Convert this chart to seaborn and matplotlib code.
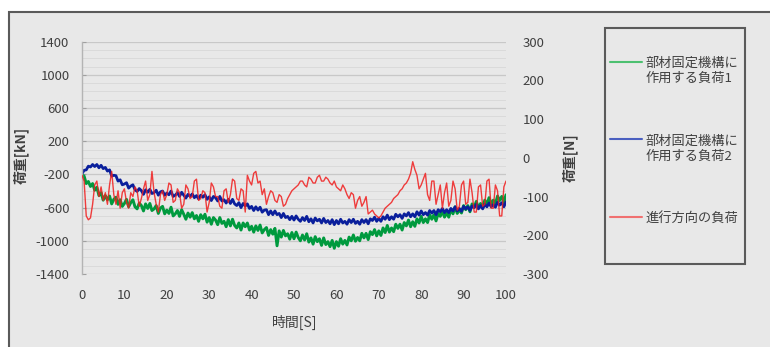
import numpy as np
import pandas as pd
import matplotlib
matplotlib.use("Agg")
import matplotlib.pyplot as plt
from matplotlib.patches import Rectangle
from matplotlib.lines import Line2D
from matplotlib.legend_handler import HandlerLine2D
import seaborn as sns

# ---------------- data (0.5 s sampling) ----------------
time_s = np.arange(0, 100.5, 0.5)

load1_kN = [
    -200, -220, -310, -285, -345, -310, -390, -355, -455, -420,
    -510, -455, -505, -460, -555, -500, -475, -560, -505, -585,
    -550, -500, -590, -540, -505, -590, -615, -545, -575, -640,
    -555, -610, -550, -635, -615, -575, -670, -605, -585, -675,
    -630, -670, -595, -700, -675, -635, -705, -625, -680, -740,
    -665, -715, -660, -735, -695, -765, -685, -735, -680, -775,
    -720, -800, -720, -750, -805, -720, -790, -765, -830, -745,
    -820, -740, -815, -845, -785, -870, -785, -830, -785, -870,
    -825, -895, -820, -875, -810, -905, -865, -840, -935, -865,
    -920, -850, -1060, -880, -955, -875, -940, -915, -980, -900,
    -975, -895, -960, -1000, -930, -990, -915, -1015, -965, -1040,
    -950, -1010, -975, -1055, -965, -1045, -1010, -1070, -995, -1090,
    -1010, -1065, -975, -1040, -995, -1050, -955, -1000, -930, -1005,
    -960, -1000, -910, -965, -910, -985, -890, -925, -865, -940,
    -880, -935, -845, -900, -815, -895, -845, -890, -800, -850,
    -800, -870, -780, -820, -750, -830, -770, -825, -735, -785,
    -705, -780, -735, -780, -685, -740, -685, -760, -670, -705,
    -640, -715, -660, -715, -620, -675, -590, -670, -625, -665,
    -575, -625, -575, -650, -555, -595, -525, -605, -550, -600,
    -510, -560, -480, -560, -510, -555, -460, -515, -465, -535,
    -445]

load2_kN = [
    -190, -150, -145, -100, -110, -80, -105, -80, -120, -90,
    -130, -115, -160, -145, -220, -210, -215, -280, -265, -325,
    -315, -300, -365, -340, -325, -385, -405, -370, -395, -440,
    -385, -415, -380, -430, -420, -390, -450, -410, -400, -450,
    -425, -445, -400, -465, -450, -420, -465, -415, -450, -485,
    -440, -465, -435, -480, -455, -495, -450, -475, -445, -500,
    -470, -515, -465, -480, -520, -465, -520, -505, -545, -500,
    -550, -500, -555, -575, -540, -600, -550, -580, -555, -610,
    -585, -635, -590, -630, -595, -655, -630, -625, -685, -640,
    -685, -640, -685, -670, -720, -670, -720, -705, -745, -705,
    -750, -700, -740, -765, -720, -755, -705, -770, -735, -785,
    -725, -760, -740, -785, -730, -780, -755, -795, -745, -805,
    -755, -795, -740, -785, -765, -800, -745, -780, -740, -790,
    -765, -800, -745, -780, -745, -795, -735, -755, -715, -765,
    -730, -765, -710, -740, -690, -745, -710, -740, -680, -710,
    -685, -730, -675, -700, -660, -710, -675, -710, -650, -690,
    -640, -685, -660, -690, -635, -665, -635, -685, -625, -650,
    -610, -660, -625, -660, -610, -640, -590, -640, -610, -645,
    -585, -615, -590, -635, -580, -600, -560, -615, -575, -615,
    -560, -590, -545, -590, -565, -595, -535, -570, -540, -590,
    -530]

travel_N = [
    -45, -60, -150, -160, -155, -120, -70, -60, -100, -75,
    -110, -90, -120, -70, -35, -95, -120, -85, -130, -90,
    -80, -115, -130, -90, -100, -75, -85, -125, -105, -80,
    -60, -110, -95, -35, -90, -120, -140, -95, -85, -110,
    -95, -65, -70, -115, -110, -80, -90, -130, -120, -70,
    -80, -105, -100, -60, -55, -110, -105, -85, -90, -140,
    -115, -65, -75, -100, -100, -125, -130, -85, -80, -115,
    -95, -55, -60, -105, -110, -80, -85, -140, -45, -60,
    -70, -40, -35, -65, -60, -95, -80, -120, -100, -85,
    -90, -110, -115, -95, -100, -125, -120, -105, -95, -85,
    -80, -75, -70, -60, -60, -70, -75, -50, -55, -65,
    -65, -50, -45, -60, -60, -50, -55, -65, -70, -60,
    -75, -80, -85, -70, -80, -95, -105, -90, -95, -130,
    -110, -100, -125, -115, -100, -145, -140, -135, -145, -150,
    -155, -150, -140, -130, -125, -120, -115, -105, -100, -95,
    -85, -80, -70, -65, -55, -40, -10, -30, -45, -80,
    -70, -55, -40, -95, -110, -60, -60, -120, -95, -70,
    -130, -90, -65, -125, -110, -60, -80, -135, -125, -70,
    -60, -120, -115, -55, -90, -140, -140, -75, -70, -125,
    -120, -60, -55, -130, -130, -70, -85, -150, -150, -75,
    -60]

series_labels = ["部材固定機構に\n作用する負荷1", "部材固定機構に\n作用する負荷2", "進行方向の負荷"]
left_ticks = [-1400, -1000, -600, -200, 200, 600, 1000, 1400]
right_ticks = [-300, -200, -100, 0, 100, 200, 300]
x_ticks = [0, 10, 20, 30, 40, 50, 60, 70, 80, 90, 100]
left_label = "荷重[kN]"
right_label = "荷重[N]"
x_label = "時間[S]"

# ---------------- style ----------------
sns.set_style("white")
plt.rcParams["font.family"] = ["Noto Sans CJK JP", "DejaVu Sans"]
plt.rcParams["axes.unicode_minus"] = False

W, H = 770, 347
fig = plt.figure(figsize=(W / 100, H / 100), dpi=100)
fig.patch.set_facecolor("white")

BG = "#e8e8e8"
TXT = "#404040"
GREEN = "#009a3e"
BLUE = "#0a1f9c"
RED = "#f01e1e"

# outer chart frame (clipped at right and bottom like the reference)
fig.patches.append(Rectangle((9 / W, -0.05), 1.0, (H - 12) / H + 0.05,
                             transform=fig.transFigure, facecolor=BG,
                             edgecolor="#5a5a5a", linewidth=1.5, zorder=-10))

ax = fig.add_axes([82 / W, 1 - 274 / H, 424 / W, 232.3 / H])
ax.set_facecolor("none")

df = pd.DataFrame({"t": time_s, "l1": load1_kN, "l2": load2_kN, "tr": travel_N})

sns.lineplot(data=df, x="t", y="l1", ax=ax, color=GREEN, linewidth=2.1, legend=False)
sns.lineplot(data=df, x="t", y="l2", ax=ax, color=BLUE, linewidth=2.0, legend=False)

ax.set_xlim(0, 100)
ax.set_ylim(-1400, 1400)
ax.set_xticks(x_ticks)
ax.set_yticks(left_ticks)
ax.set_yticks(list(range(-1400, 1401, 100)), minor=True)
ax.grid(True, which="major", axis="y", color="#c8c8c8", linewidth=0.9)
ax.grid(True, which="minor", axis="y", color="#dadada", linewidth=0.7)
ax.grid(False, axis="x")
ax.set_axisbelow(True)
for s in ["top", "right", "bottom"]:
    ax.spines[s].set_visible(False)
ax.spines["left"].set_color("#b4b4b4")
ax.spines["left"].set_linewidth(1.0)
ax.tick_params(axis="y", which="major", direction="in", length=3, color="#a0a0a0",
               labelsize=9.5, labelcolor=TXT, pad=9)
ax.tick_params(axis="y", which="minor", length=0)
ax.tick_params(axis="x", length=0, labelsize=9.5, labelcolor=TXT, pad=11)

ax.set_ylabel(left_label, fontsize=10, color=TXT, fontweight="bold")
ax.yaxis.set_label_coords(-0.125, 0.512)
ax.set_xlabel(x_label, fontsize=10, color=TXT)
ax.xaxis.set_label_coords(0.502, -0.175)

ax2 = ax.twinx()
ax2.set_facecolor("none")
sns.lineplot(data=df, x="t", y="tr", ax=ax2, color=RED, linewidth=1.0, alpha=0.85, legend=False)
ax2.set_ylim(-300, 300)
ax2.set_yticks(right_ticks)
ax2.set_xlim(0, 100)
for s in ["top", "right", "bottom", "left"]:
    ax2.spines[s].set_visible(False)
ax2.tick_params(axis="y", length=0, labelsize=9.5, labelcolor=TXT, pad=12)
ax2.set_ylabel(right_label, fontsize=10, color=TXT, fontweight="bold")
ax2.yaxis.set_label_coords(1.132, 0.50)
ax2.grid(False)


class TopLineHandler(HandlerLine2D):
    """Legend handle placed level with the first text line (as in the reference)."""

    def __init__(self, dy=0.0, **kw):
        super().__init__(**kw)
        self.dy = dy

    def create_artists(self, legend, orig_handle, xdescent, ydescent, width,
                       height, fontsize, trans):
        arts = super().create_artists(legend, orig_handle, xdescent, ydescent,
                                      width, height, fontsize, trans)
        for a in arts:
            a.set_ydata(np.asarray(a.get_ydata(), dtype=float) + self.dy)
        return arts


# legend box
fig.patches.append(Rectangle((605 / W, 1 - 264 / H), 140 / W, 236 / H,
                             transform=fig.transFigure, facecolor="none",
                             edgecolor="#5a5a5a", linewidth=1.5, zorder=5))
handles = [Line2D([], [], color="#4cc070", linewidth=1.5),
           Line2D([], [], color="#4a5fc0", linewidth=1.5),
           Line2D([], [], color="#f07070", linewidth=1.5)]
leg = fig.legend(handles, series_labels, loc="upper left",
                 bbox_to_anchor=(610 / W, 1 - 57 / H), frameon=False,
                 fontsize=9.5, labelcolor=TXT, handlelength=2.4,
                 handletextpad=0.3, borderpad=0, borderaxespad=0,
                 labelspacing=3.75,
                 handler_map={handles[0]: TopLineHandler(dy=7),
                              handles[1]: TopLineHandler(dy=7),
                              handles[2]: TopLineHandler(dy=0)})

fig.savefig("out.png", dpi=100, facecolor="white")
